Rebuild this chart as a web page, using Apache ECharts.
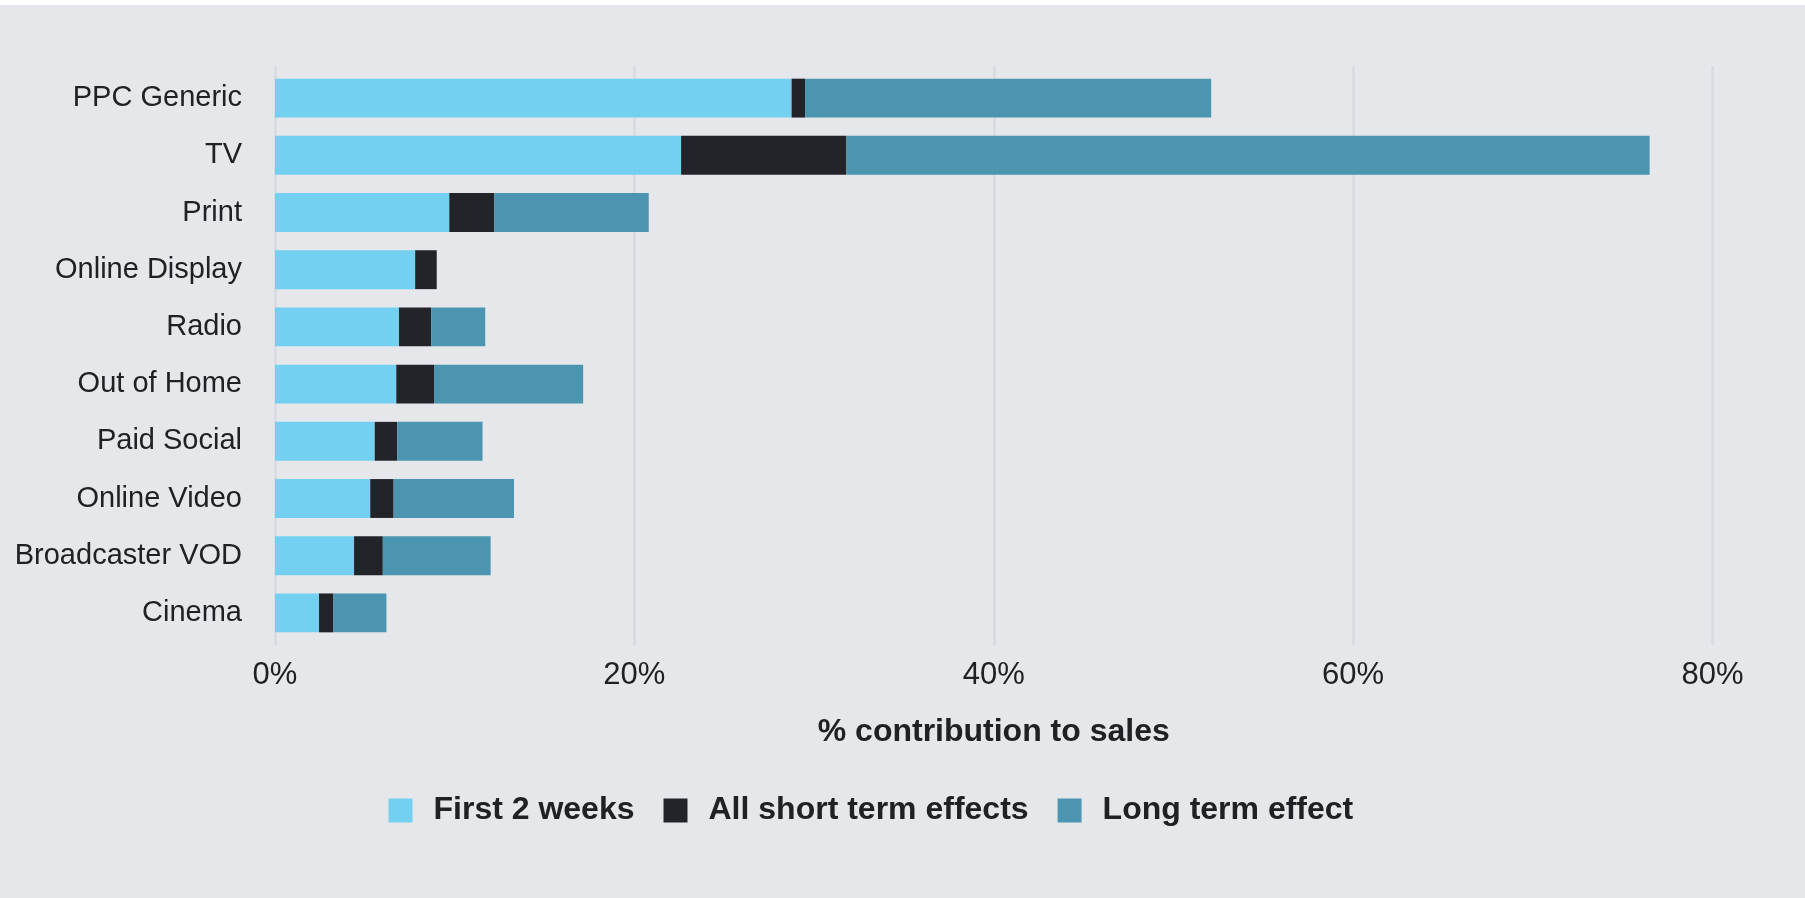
<!DOCTYPE html>
<html>
<head>
<meta charset="utf-8">
<script src="https://cdn.jsdelivr.net/npm/echarts@6/dist/echarts.min.js"></script>
<style>
  html, body { margin: 0; padding: 0; background: #ffffff; }
  #chart { width: 1805px; height: 898px; }
</style>
</head>
<body>
<div id="chart"></div>
<script>
// Media channels, top to bottom
const categories = ['PPC Generic', 'TV', 'Print', 'Online Display', 'Radio',
  'Out of Home', 'Paid Social', 'Online Video', 'Broadcaster VOD', 'Cinema'];

// % contribution to sales, stacked segments
const firstTwoWeeks = [28.75, 22.6, 9.7, 7.8, 6.9, 6.75, 5.55, 5.3, 4.4, 2.45];
const shortTermExtra = [0.75, 9.2, 2.5, 1.2, 1.8, 2.1, 1.25, 1.3, 1.6, 0.8];
const longTerm = [22.6, 44.7, 8.6, 0, 3.0, 8.3, 4.75, 6.7, 6.0, 2.95];

const xTicks = [0, 20, 40, 60, 80];
const seriesNames = ['First 2 weeks', 'All short term effects', 'Long term effect'];
const colors = ['#6acef0', '#121319', '#3f8eaa'];

const FONT = "'Liberation Sans', Arial, Helvetica, sans-serif";
const TEXT = '#202124';
const BG = '#e5e7eb';

const chart = echarts.init(document.getElementById('chart'), null, { renderer: 'canvas' });

const option = {
  backgroundColor: BG,
  animation: false,
  textStyle: { fontFamily: FONT, color: TEXT },
  graphic: [{
    type: 'rect',
    shape: { x: 0, y: 0, width: 1805, height: 5 },
    style: { fill: '#ffffff' },
    silent: true
  }],
  grid: [
    { left: 275, right: 92.5, top: 69.5, bottom: 256.5, containLabel: false },
    { left: 275, right: 92.5, top: 66, bottom: 253, containLabel: false }
  ],
  xAxis: [
    {
      type: 'value', gridIndex: 0,
      min: xTicks[0], max: xTicks[xTicks.length - 1], interval: 20,
      axisLine: { show: false }, axisTick: { show: false },
      splitLine: { show: false },
      axisLabel: {
        formatter: v => v + '%', fontSize: 31, color: TEXT, fontFamily: FONT, margin: 18
      },
      name: '% contribution to sales',
      nameLocation: 'middle', nameGap: 74.5,
      nameTextStyle: { fontSize: 32, fontWeight: 'bold', color: TEXT, fontFamily: FONT }
    },
    {
      type: 'value', gridIndex: 1,
      min: xTicks[0], max: xTicks[xTicks.length - 1], interval: 20,
      axisLine: { show: false }, axisTick: { show: false }, axisLabel: { show: false },
      splitLine: { show: true, lineStyle: { color: '#d8dadf', width: 2.5 } }
    }
  ],
  yAxis: [
    {
      type: 'category', gridIndex: 0, data: categories, inverse: true,
      axisLine: { show: false }, axisTick: { show: false },
      axisLabel: { fontSize: 29, color: TEXT, fontFamily: FONT, margin: 33 }
    },
    {
      type: 'category', gridIndex: 1, data: categories, inverse: true, show: false
    }
  ],
  legend: {
    left: 383.5, top: 789.5,
    itemWidth: 24, itemHeight: 24, itemGap: 29,
    icon: 'rect',
    data: seriesNames,
    textStyle: {
      fontSize: 32, fontWeight: 'bold', color: TEXT, fontFamily: FONT,
      padding: [0, 0, 0, 16]
    }
  },
  series: [firstTwoWeeks, shortTermExtra, longTerm].map((vals, i) => ({
    name: seriesNames[i],
    type: 'bar',
    stack: 'total',
    xAxisIndex: 0, yAxisIndex: 0,
    barWidth: '68%',
    data: vals,
    itemStyle: { color: colors[i], opacity: 0.92 }
  }))
};

chart.setOption(option);
</script>
</body>
</html>
